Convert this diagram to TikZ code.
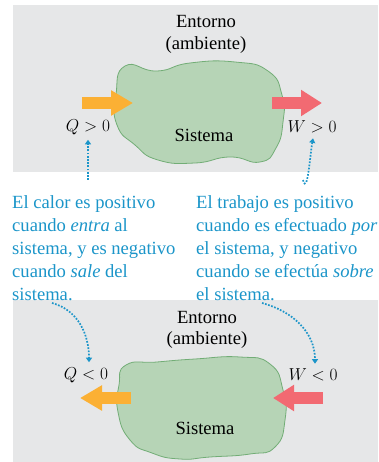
\documentclass[tikz,border=0pt]{standalone}
\usepackage{fontspec}
\setmainfont{Liberation Serif}
\usepackage{tikz}
\usetikzlibrary{arrows.meta, positioning}

\definecolor{fondo}{HTML}{E6E7E8}
\definecolor{verde}{HTML}{B6D4B6}
\definecolor{verdeborde}{HTML}{72AD76}
\definecolor{naranja}{HTML}{FBB034}
\definecolor{rojo}{HTML}{F26A72}
\definecolor{azul}{HTML}{1B95C9}

\begin{document}
\begin{tikzpicture}[x=1pt, y=-1pt,
    label/.style={inner sep=0pt, font=\fontsize{18.6}{22}\selectfont, align=center},
    signo/.style={inner sep=0pt, font=\fontsize{19}{22}\selectfont},
    nota/.style={inner sep=0pt, anchor=north west, align=left, text=azul, font=\fontsize{18.6}{23.2}\selectfont},
    sistema/.style={fill=verde, draw=verdeborde, line width=0.8pt},
    calor/.style={naranja, line width=11.5pt, -{Triangle[length=22pt, width=24pt]}},
    trabajo/.style={rojo, line width=11.5pt, -{Triangle[length=21pt, width=25pt]}},
    puntero/.style={azul, line width=1.7pt, dash pattern=on 1.7pt off 1.5pt, -{Triangle[length=4.5pt, width=6pt]}}
]
\useasboundingbox (0,0) rectangle (378,462);

% fondos
\fill[fondo] (13,5) rectangle (378,172);
\fill[fondo] (13,300) rectangle (378,462);

% sistema arriba
\draw[sistema] plot[smooth cycle, tension=0.9] coordinates {(125,66) (157,71) (190,63) (235,62) (268,71) (282,95) (283,122) (276,148) (260,162) (230,157) (195,163) (158,160) (135,145) (117,125) (116,95)};
% sistema abajo
\draw[sistema] plot[smooth cycle, tension=0.9] coordinates {(126,365) (157,362) (195,359) (240,357) (270,364) (283,390) (285,420) (275,447) (250,454) (210,457) (180,459) (152,453) (130,440) (118,412) (119,385)};

\node[label] (ent1) at (206,22) {Entorno};
\node[label] (amb1) at (206,45) {(ambiente)};
\node[label] (sis1) at (204,135) {Sistema};
\node[signo] (q1) at (88,127) {$Q > 0$};
\node[signo] (w1) at (312,127) {$W > 0$};

\node[label] (ent2) at (207,317) {Entorno};
\node[label] (amb2) at (207,340) {(ambiente)};
\node[label] (sis2) at (205,428) {Sistema};
\node[signo] (q2) at (86,375) {$Q < 0$};
\node[signo] (w2) at (313,375) {$W < 0$};

\node[nota] (n1) at (12,195) {El calor es positivo\\cuando \emph{entra} al\\sistema, y es negativo\\cuando \emph{sale} del\\sistema.};
\node[nota] (n2) at (196,195) {El trabajo es positivo\\cuando es efectuado \emph{por}\\el sistema, y negativo\\cuando se efectúa \emph{sobre}\\el sistema.};

% flechas de calor y trabajo
\coordinate (qa1) at (82,103);
\coordinate (qb1) at (133,103);
\coordinate (wa1) at (272,103);
\coordinate (wb1) at (322,103);
\coordinate (qa2) at (131,398);
\coordinate (qb2) at (80,398);
\coordinate (wa2) at (323,398);
\coordinate (wb2) at (273,398);
\draw[calor] (qa1) -- (qb1);
\draw[trabajo] (wa1) -- (wb1);
\draw[calor] (qa2) -- (qb2);
\draw[trabajo] (wa2) -- (wb2);

% punteros
\coordinate (p1) at (88,180);
\coordinate (p2) at (303,180);
\coordinate (p3) at (52,303);
\coordinate (p4) at (262,303);
\draw[puntero] (p1) -- ([yshift=-5pt]q1.south);
\draw[puntero] (p2) to[out=-75, in=-100] ([xshift=1pt, yshift=-5pt]w1.south);
\draw[puntero] (p3) to[out=-15, in=90] ([xshift=3pt, yshift=5pt]q2.north);
\draw[puntero] (p4) to[out=-15, in=90] ([xshift=2pt, yshift=5pt]w2.north);
\end{tikzpicture}
\end{document}
